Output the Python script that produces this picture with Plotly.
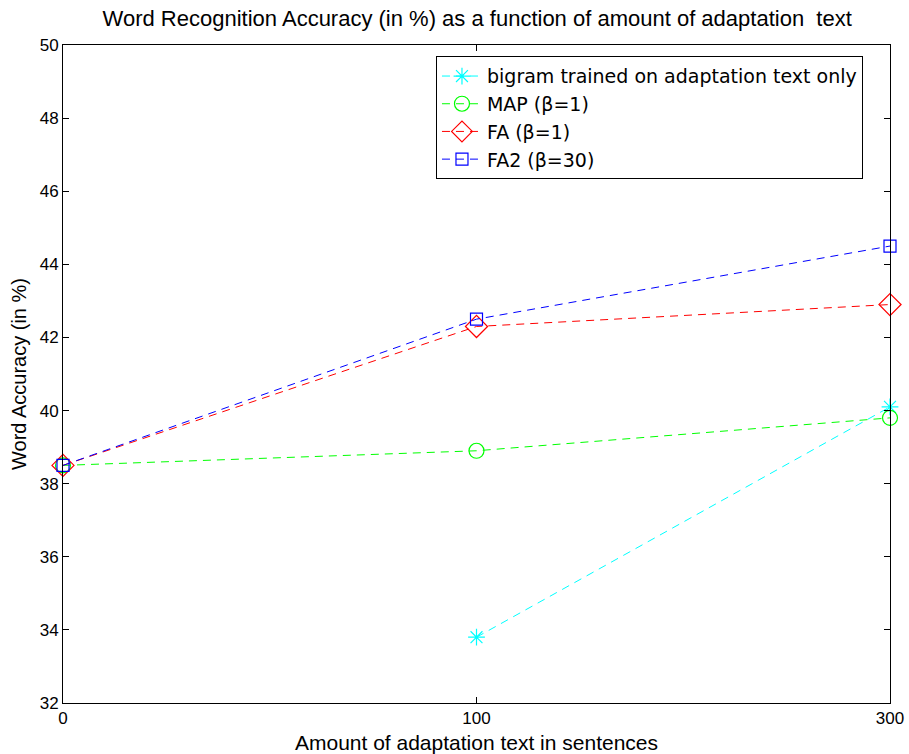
import plotly.graph_objects as go

x_labels = ["0", "100", "300"]
x_pos = [0, 1, 2]

bigram_x = [1, 2]
bigram_y = [33.8, 40.1]
map_y = [38.5, 38.9, 39.8]
fa_y = [38.5, 42.3, 42.9]
fa2_y = [38.5, 42.5, 44.5]

names = ["bigram trained on adaptation text only", "MAP (\u03b2=1)", "FA (\u03b2=1)", "FA2 (\u03b2=30)"]
colors = ["#00FFFF", "#00FF00", "#FF0000", "#0000FF"]
symbols = ["asterisk-open", "circle-open", "diamond-open", "square-open"]
sizes = [14, 15, 17, 12]

series_x = [bigram_x, x_pos, x_pos, x_pos]
series_y = [bigram_y, map_y, fa_y, fa2_y]

fig = go.Figure()
for xs, ys, n, c, s, sz in zip(series_x, series_y, names, colors, symbols, sizes):
    fig.add_trace(go.Scatter(
        x=xs, y=ys, name=n, mode="lines+markers",
        line=dict(color=c, width=1, dash="8px,6px"),
        marker=dict(symbol=s, size=sz, color=c, line=dict(color=c, width=1.2)),
        cliponaxis=False,
    ))

font = "Liberation Sans, Arial, sans-serif"

fig.update_layout(
    width=909, height=754,
    margin=dict(l=63, r=19, t=45, b=51, autoexpand=False),
    paper_bgcolor="white", plot_bgcolor="white",
    title=dict(text="Word Recognition Accuracy (in %) as a function of amount of adaptation  text",
               x=0.525, xanchor="center", y=0.976, yanchor="middle",
               font=dict(family=font, size=22, color="black")),
    xaxis=dict(range=[0, 2], tickvals=x_pos, ticktext=x_labels, automargin=False,
               showline=True, mirror="ticks", linecolor="black", linewidth=1,
               ticks="inside", ticklen=6, tickcolor="black",
               showgrid=False, zeroline=False,
               tickfont=dict(family=font, size=17, color="black"),
               title=dict(text="Amount of adaptation text in sentences", standoff=8,
                          font=dict(family=font, size=21, color="black"))),
    yaxis=dict(range=[32, 50], dtick=2, tick0=32, automargin=False,
               showline=True, mirror="ticks", linecolor="black", linewidth=1,
               ticks="inside", ticklen=6, tickcolor="black",
               showgrid=False, zeroline=False,
               tickfont=dict(family=font, size=17, color="black"),
               title=dict(text="Word Accuracy (in %)", standoff=7,
                          font=dict(family=font, size=20, color="black"))),
    legend=dict(x=0.451, y=0.983, xanchor="left", yanchor="top",
                bgcolor="white", bordercolor="black", borderwidth=1,
                font=dict(family="DejaVu Sans, Liberation Sans, sans-serif", size=19, color="black"),
                tracegroupgap=0, itemwidth=40),
    showlegend=True,
)

fig.write_html("out.html")
